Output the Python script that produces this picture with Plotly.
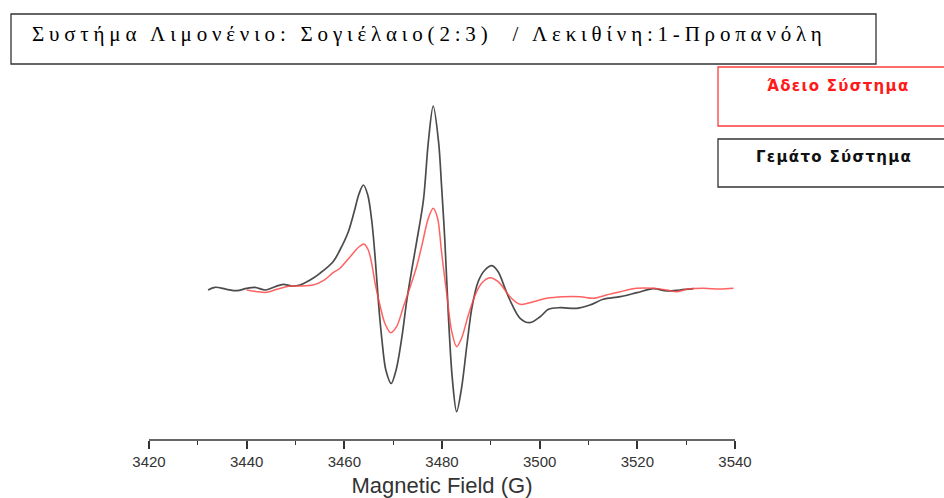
import plotly.graph_objects as go

# EPR spectra: magnetic field (G) vs. derivative signal intensity (a.u.)
field_full = [3432.1, 3433.5, 3435.9, 3438.0, 3440.0, 3441.7, 3443.8, 3445.8, 3447.5,
              3449.2, 3450.9, 3453.0, 3455.0, 3457.7, 3459.1, 3460.8, 3462.0, 3463.0,
              3463.9, 3464.8, 3465.6, 3466.3, 3467.0, 3467.7, 3468.5, 3469.6, 3470.6,
              3471.8, 3472.8, 3473.8, 3474.8, 3476.2, 3477.2, 3478.2, 3479.3, 3479.9,
              3480.6, 3481.3, 3482.1, 3483.0, 3484.0, 3485.1, 3486.1, 3487.4, 3488.8,
              3490.2, 3491.5, 3492.9, 3493.9, 3496.0, 3498.0, 3500.1, 3501.8, 3504.2,
              3507.6, 3510.3, 3513.0, 3516.5, 3519.9, 3523.3, 3526.0, 3528.7, 3531.5]
signal_full = [0, 2.7, 0.7, -0.7, 1.7, 2.7, 0, 3.3, 5.7,
               4, 5, 10, 16.7, 28.3, 40, 58, 78, 96,
               105, 95, 70, 33, -13.3, -50, -80, -93.5, -80,
               -46.7, -10, 20, 48, 90, 148, 184, 148, 105,
               48, -25, -88, -121.7, -98.3, -55, -18.3, 8.3, 20,
               24.3, 18.3, 1.7, -10, -28.3, -32.7, -26.7, -19.3, -17.7,
               -18.3, -15, -9.3, -6.7, -2.7, 1.3, -1, 0, 1.3]

field_empty = [3440.0, 3442.1, 3444.1, 3446.2, 3448.9, 3450.9, 3453.6, 3455.7, 3457.7,
               3459.1, 3461.2, 3462.9, 3464.0, 3464.9, 3465.6, 3466.3, 3467.2, 3468.3,
               3469.5, 3470.7, 3472.1, 3473.5, 3474.8, 3475.9, 3477.2, 3478.2, 3479.1,
               3479.9, 3481.0, 3482.0, 3483.0, 3484.0, 3485.4, 3486.8, 3488.1, 3489.8,
               3491.5, 3492.9, 3493.9, 3496.0, 3498.7, 3501.4, 3504.8, 3508.3, 3511.0,
               3513.7, 3516.5, 3519.9, 3523.3, 3526.0, 3528.1, 3530.1, 3533.5, 3536.9,
               3539.7]
signal_empty = [0, -1.7, -2.3, 0.7, 4, 4, 5, 9.3, 17.3,
                21.7, 33.3, 42.7, 46, 40, 26.7, 6.7, -13.3, -33.3,
                -42.7, -36.7, -16.7, 3.3, 23.3, 45, 71.7, 81.7, 71.7,
                38.3, -5, -41.7, -56.7, -48.3, -25, -5, 6.7, 12.3,
                8.3, 0, -6.7, -14.3, -11.7, -8.3, -6.7, -6.7, -8.3,
                -5, -1.7, 1.7, 1.7, 0, -1.7, 0.7, 1.7, 1,
                1.7]

x_ticks = [3420, 3440, 3460, 3480, 3500, 3520, 3540]

title_text = "Συστήμα Λιμονένιο: Σογιέλαιο(2:3)  / Λεκιθίνη:1-Προπανόλη"
label_empty = "Άδειο Σύστημα"
label_full = "Γεμάτο Σύστημα"

W, H = 944, 498
L, R, T, B = 149, 209, 100, 58
PW, PH = W - L - R, H - T - B


def px(x):
    return (x - L) / PW


def py(y):
    return (H - B - y) / PH


fig = go.Figure()
fig.add_trace(go.Scatter(x=field_full, y=signal_full, mode="lines",
                         line=dict(color="rgba(55,55,55,0.9)", width=1.7, shape="spline", smoothing=0.9),
                         showlegend=False, hoverinfo="skip"))
fig.add_trace(go.Scatter(x=field_empty, y=signal_empty, mode="lines",
                         line=dict(color="rgba(255,70,70,0.85)", width=1.5, shape="spline", smoothing=0.9),
                         showlegend=False, hoverinfo="skip"))

shapes = [
    dict(type="rect", xref="paper", yref="paper", x0=px(11), x1=px(876), y0=py(64), y1=py(14),
         line=dict(color="#333333", width=1.3), fillcolor="white", layer="above"),
    dict(type="rect", xref="paper", yref="paper", x0=px(718), x1=px(960), y0=py(126), y1=py(67),
         line=dict(color="#ff3b3b", width=1.3), fillcolor="white"),
    dict(type="rect", xref="paper", yref="paper", x0=px(718), x1=px(960), y0=py(187), y1=py(139),
         line=dict(color="#333333", width=1.3), fillcolor="white"),
    # x-axis baseline spanning the field range
    dict(type="line", xref="x", yref="paper", x0=x_ticks[0], x1=x_ticks[-1], y0=0, y1=0,
         line=dict(color="#333333", width=1.5)),
]

annotations = [
    dict(xref="paper", yref="paper", x=px(30), y=py(34), xanchor="left", yanchor="middle",
         text='<span style="letter-spacing:4.8px">' + title_text + '</span>', showarrow=False,
         font=dict(family="Liberation Serif", size=21, color="#000000")),
    dict(xref="paper", yref="paper", x=px(838), y=py(86), xanchor="center", yanchor="middle",
         text='<span style="letter-spacing:1.3px"><b>' + label_empty + "</b></span>", showarrow=False,
         font=dict(family="DejaVu Sans", size=15, color="#ff1a1a")),
    dict(xref="paper", yref="paper", x=px(834), y=py(157), xanchor="center", yanchor="middle",
         text='<span style="letter-spacing:1.3px"><b>' + label_full + "</b></span>", showarrow=False,
         font=dict(family="DejaVu Sans", size=15, color="#111111")),
]

fig.update_layout(
    width=W, height=H,
    margin=dict(l=L, r=R, t=T, b=B, pad=0),
    paper_bgcolor="white", plot_bgcolor="white",
    shapes=shapes, annotations=annotations,
    xaxis=dict(range=[3420, 3540], tickvals=x_ticks, ticktext=[str(v) for v in x_ticks],
               automargin=False, showline=False, showgrid=False, zeroline=False,
               ticks="outside", ticklen=8, tickwidth=1.5, tickcolor="#333333",
               ticklabelstandoff=0,
               minor=dict(dtick=10, tick0=3420, ticks="outside", ticklen=4, tickwidth=1.3, tickcolor="#333333"),
               tickfont=dict(family="Liberation Sans", size=15, color="#333333"),
               title=dict(text="Magnetic Field (G)", standoff=10,
                          font=dict(family="Liberation Sans", size=22, color="#333333"))),
    yaxis=dict(range=[-150, 190], visible=False, automargin=False),
)

fig.write_html("out.html")
